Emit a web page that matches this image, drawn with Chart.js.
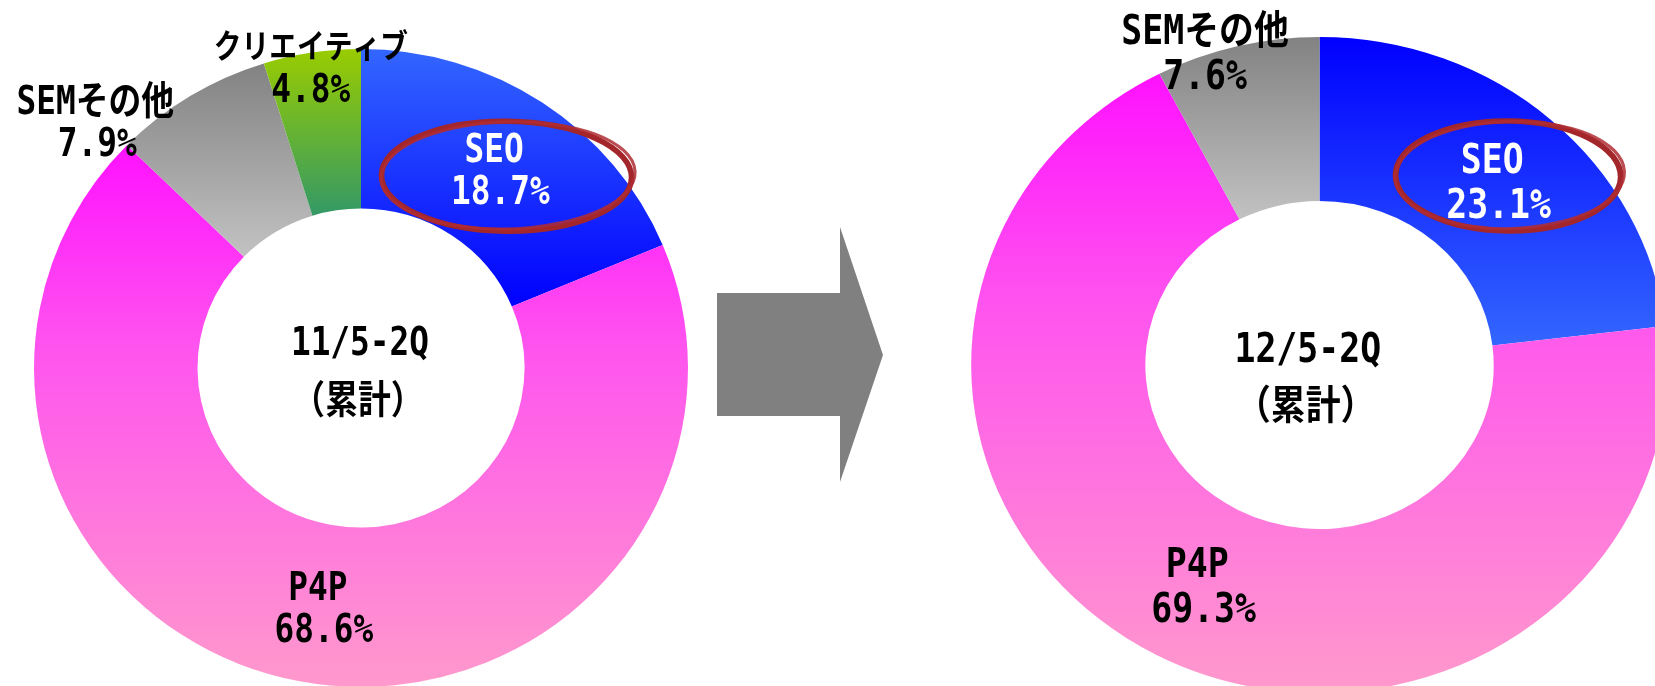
<!DOCTYPE html>
<html><head><meta charset="utf-8">
<script src="https://cdn.jsdelivr.net/npm/chart.js@4.4.1/dist/chart.umd.min.js"></script>
<style>
html,body{margin:0;padding:0;background:#fff;width:1655px;height:686px;overflow:hidden;}
canvas{position:absolute;}
#c1{left:0;top:0;}
#c2{left:940px;top:0;}
#arrow{position:absolute;left:0;top:0;}
</style></head><body>
<svg id="arrow" width="1655" height="686"><polygon points="717,293 840,293 840,227 883,355 840,482 840,416 717,416" fill="#808080"/></svg>
<canvas id="c1" width="722" height="740"></canvas>
<canvas id="c2" width="760" height="740"></canvas>
<script>
// ---- data ----
const categories1 = ['SEO', 'P4P', 'SEMその他', 'クリエイティブ'];
const values1 = [18.7, 68.6, 7.9, 4.8];
const categories2 = ['SEO', 'P4P', 'SEMその他'];
const values2 = [23.1, 69.3, 7.6];
const periods = ['11/5-2Q', '12/5-2Q'];
const periodNote = '（累計）';

// ---- styles ----
const grad1 = [
  [[0, '#3366FF'], [1, '#0000FF']],
  [[0, '#FF11FF'], [0.38, '#FF55EE'], [1, '#FF99CC']],
  [[0, '#828282'], [1, '#C2C2C2']],
  [[0, '#99CC00'], [1, '#339966']]
];
const grad2 = [
  [[0, '#0000FF'], [1, '#3366FF']],
  [[0, '#FF11FF'], [0.38, '#FF55EE'], [1, '#FF99CC']],
  [[0, '#828282'], [1, '#C2C2C2']]
];
const FONT = 'bold SIZEpx "DejaVu Sans Mono", "Noto Sans CJK JP", sans-serif';
const COMPRESS = 0.82;

const layouts = {
  c1: { sx: 1.025, font: 39, lineH: 42,
        center: [[-1, -27], [-3, 31]], period: 0,
        labels: [
          { rf: 0.752, da: 0, color: '#fff', dx: [-3, 3] },
          { rf: 0.76, da: -1.5, color: '#000', dx: [-3, 3] },
          { rf: 1.12, da: -14.8, color: '#000', dx: [-1, 1] },
          { rf: 0.956, da: -0.6, color: '#000', dx: [0, 0], nameFont: 33 }
        ],
        ellipse: { dx: 9, dy: 8, rx: 122, ry: 55 } },
  c2: { sx: 1.062, font: 40, lineH: 45,
        center: [[-11, -18], [-13, 39]], period: 1,
        labels: [
          { rf: 0.755, da: 0.4, color: '#fff', dx: [-3, 3] },
          { rf: 0.753, da: -0.9, color: '#000', dx: [-3, 3] },
          { rf: 1.01, da: -5.3, color: '#000', dx: [0, 0] }
        ],
        ellipse: { dx: 12, dy: -5, rx: 106, ry: 55 } }
};

function sliceGradient(c, stops) {
  const chart = c.chart, area = chart.chartArea;
  const st = stops[c.dataIndex];
  if (!area) return st[0][1];
  const data = c.dataset.data;
  const cx = (area.left + area.right) / 2, cy = (area.top + area.bottom) / 2;
  const R = Math.min(area.width, area.height) / 2, r = R * 0.5;
  const total = data.reduce((a, b) => a + b, 0);
  let before = 0;
  for (let k = 0; k < c.dataIndex; k++) before += data[k];
  const a1 = before / total * 2 * Math.PI, a2 = (before + data[c.dataIndex]) / total * 2 * Math.PI;
  let ymin = Infinity, ymax = -Infinity;
  for (let s = 0; s <= 180; s++) {
    const t = a1 + (a2 - a1) * s / 180;
    for (const rad of [R, r]) {
      const y = cy - rad * Math.cos(t);
      ymin = Math.min(ymin, y); ymax = Math.max(ymax, y);
    }
  }
  const g = chart.ctx.createLinearGradient(0, ymin, 0, ymax);
  st.forEach(([o, col]) => g.addColorStop(o, col));
  return g;
}

function drawText(ctx, text, x, yCenter, size, color) {
  ctx.save();
  ctx.font = FONT.replace('SIZE', size);
  ctx.fillStyle = color;
  ctx.textAlign = 'center';
  ctx.textBaseline = 'alphabetic';
  ctx.translate(x, yCenter + size * 0.729 / 2);
  ctx.scale(COMPRESS, 1);
  ctx.fillText(text, 0, 0);
  ctx.restore();
}

function stretch(ctx, cx, sx) {
  ctx.translate(cx, 0); ctx.scale(sx, 1); ctx.translate(-cx, 0);
}

const decor = {
  id: 'decor',
  beforeDatasetsDraw(chart) {
    const L = layouts[chart.canvas.id];
    const a = chart.getDatasetMeta(0).data[0];
    chart.ctx.save();
    stretch(chart.ctx, a.x, L.sx);
  },
  afterDatasetsDraw(chart) { chart.ctx.restore(); },
  afterDraw(chart) {
    const L = layouts[chart.canvas.id];
    const ctx = chart.ctx;
    const arcs = chart.getDatasetMeta(0).data;
    const cx = arcs[0].x, cy = arcs[0].y, R = arcs[0].outerRadius;
    const labels = chart.data.labels, vals = chart.data.datasets[0].data;
    ctx.save();
    stretch(ctx, cx, L.sx);
    const pos = arcs.map((arc, i) => {
      const sp = L.labels[i];
      const mid = (arc.startAngle + arc.endAngle) / 2 + sp.da * Math.PI / 180;
      return [cx + R * sp.rf * Math.cos(mid), cy + R * sp.rf * Math.sin(mid)];
    });
    // hand-drawn style highlight ellipse round the SEO label
    const e = L.ellipse;
    const ex = pos[0][0] + e.dx, ey = pos[0][1] + e.dy;
    ctx.strokeStyle = '#a3262b';
    ctx.lineWidth = 5.5;
    ctx.beginPath(); ctx.ellipse(ex, ey, e.rx, e.ry, 0.01, 0, 2 * Math.PI); ctx.stroke();
    ctx.strokeStyle = 'rgba(175,45,50,0.85)';
    ctx.lineWidth = 3;
    ctx.beginPath(); ctx.ellipse(ex + 1.5, ey - 1, e.rx + 2, e.ry - 1.5, -0.03, -1.2, 5.6); ctx.stroke();
    // slice labels
    arcs.forEach((arc, i) => {
      const sp = L.labels[i];
      const [x, y] = pos[i];
      drawText(ctx, labels[i], x + sp.dx[0], y - L.lineH / 2, sp.nameFont || L.font, sp.color);
      drawText(ctx, vals[i].toFixed(1) + '%', x + sp.dx[1], y + L.lineH / 2, L.font, sp.color);
    });
    // centre text
    drawText(ctx, periods[L.period], cx + L.center[0][0], cy + L.center[0][1], L.font, '#000');
    drawText(ctx, periodNote, cx + L.center[1][0], cy + L.center[1][1], L.font, '#000');
    ctx.restore();
  }
};

function makeChart(id, cats, vals, stops, padding) {
  return new Chart(document.getElementById(id), {
    type: 'doughnut',
    data: {
      labels: cats,
      datasets: [{
        data: vals,
        backgroundColor: c => sliceGradient(c, stops),
        borderWidth: 0, hoverBorderWidth: 0, offset: 0, hoverOffset: 0, spacing: 0
      }]
    },
    options: {
      responsive: false, animation: false, devicePixelRatio: 1,
      cutout: '50%', rotation: 0, circumference: 360,
      layout: { padding },
      events: [],
      plugins: { legend: { display: false }, tooltip: { enabled: false } }
    },
    plugins: [decor]
  });
}

makeChart('c1', categories1, values1, grad1, { top: 49, bottom: 53, left: 0, right: 0 });
makeChart('c2', categories2, values2, grad2, { top: 37, bottom: 47, left: 51.5, right: 52.5 });
</script>
</body></html>
